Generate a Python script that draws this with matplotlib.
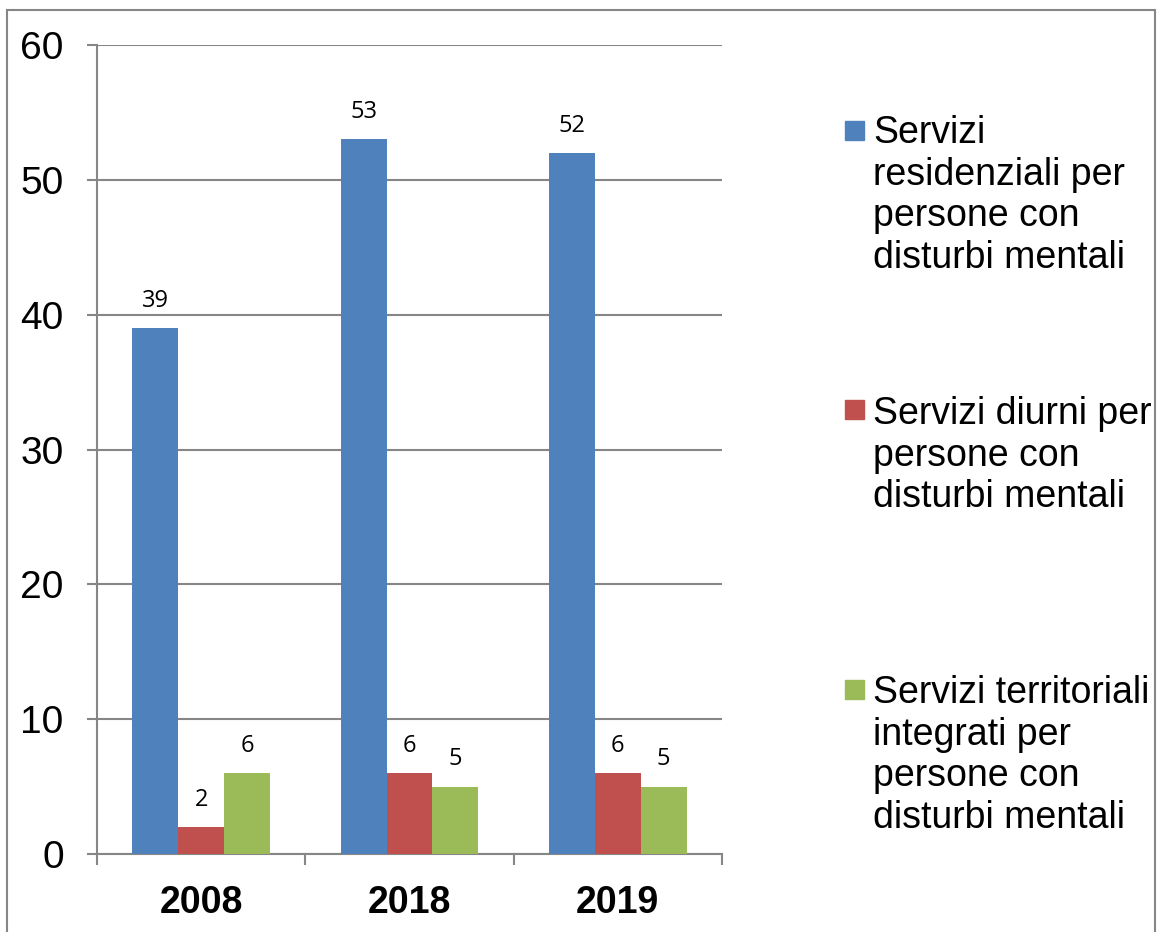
import numpy as np
import matplotlib.pyplot as plt
from matplotlib.patches import Rectangle

# data
anni = ['2008', '2018', '2019']
residenziali = [39, 53, 52]
diurni = [2, 6, 6]
territoriali = [6, 5, 5]
serie = [residenziali, diurni, territoriali]
etichette = ['Servizi\nresidenziali per\npersone con\ndisturbi mentali',
             'Servizi diurni per\npersone con\ndisturbi mentali',
             'Servizi territoriali\nintegrati per\npersone con\ndisturbi mentali']
colori = ['#4F81BD', '#C0504D', '#9BBB59']

plt.rcParams['font.family'] = ['Liberation Sans', 'DejaVu Sans']
grigio = '#868686'
W, H = 1160, 932

fig = plt.figure(figsize=(11.6, 9.32), dpi=100)
ax = fig.add_axes([97/W, 1 - 854/H, 625/W, 809/H])

x = np.arange(len(anni))
w = 0.22
for i, (vals, col) in enumerate(zip(serie, colori)):
    b = ax.bar(x + (i - 1)*w, vals, w, color=col, zorder=3)
    for rect, v in zip(b, vals):
        ax.annotate(str(v), (rect.get_x() + rect.get_width()/2, v),
                    xytext=(0, 11), textcoords='offset points',
                    ha='center', va='bottom', fontsize=17,
                    family=['Open Sans', 'DejaVu Sans'])

ax.set_xlim(-0.5, 2.5)
ax.set_ylim(0, 60)
ax.set_yticks(range(0, 61, 10))
ax.yaxis.grid(True, color=grigio, lw=1.5, zorder=0)
ax.tick_params(axis='y', length=7, width=1.5, color=grigio, pad=17,
               labelsize=28)
ax.set_xticks(x)
ax.set_xticklabels(anni, fontsize=27, fontweight='bold')
ax.set_xticks([-0.5, 0.5, 1.5, 2.5], minor=True)
ax.tick_params(axis='x', which='major', length=0, pad=22)
ax.tick_params(axis='x', which='minor', length=8, width=1.5, color=grigio)
for s in ['top', 'right']:
    ax.spines[s].set_visible(False)
for s in ['left', 'bottom']:
    ax.spines[s].set_color(grigio)
    ax.spines[s].set_linewidth(1.5)

# legenda disegnata a mano
testo_top = [115, 396, 675]
quadro_top = [121, 400, 680]
for lab, col, ty, qy in zip(etichette, colori, testo_top, quadro_top):
    fig.text(873/W, 1 - ty/H, lab, fontsize=27, va='top', ha='left',
             linespacing=1.2)
    fig.patches.append(Rectangle((845/W, 1 - (qy + 19)/H), 19/W, 19/H,
                                 transform=fig.transFigure, color=col))

fig.patches.append(Rectangle((7/W, -0.05), 1148/W, 1.05 - 10/H,
                             transform=fig.transFigure, fill=False,
                             ec=grigio, lw=1.5))

fig.savefig('out.png', dpi=100)
